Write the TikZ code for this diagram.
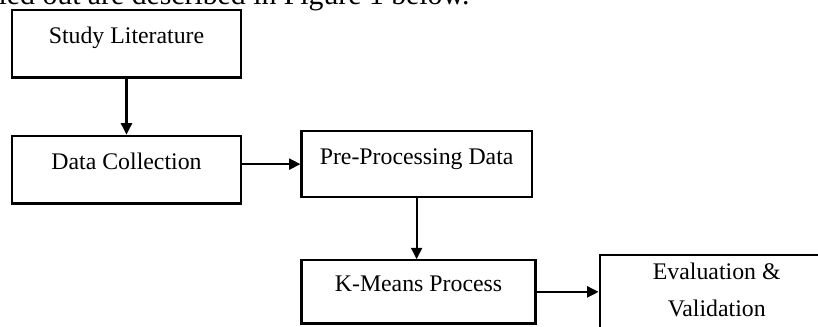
\documentclass[tikz,border=0pt]{standalone}
\usepackage{fontspec}
\setmainfont{Liberation Serif}
\usepackage{tikz}
\usetikzlibrary{arrows.meta,positioning}

\begin{document}
\begin{tikzpicture}[
    x=0.42pt, y=-0.42pt,
    node distance=23.5pt and 24.4pt,
    stepbox/.style={rectangle, draw=black, line width=0.95pt, align=center, minimum width=96.4pt, minimum height=28.4pt, text height=7pt, text depth=7pt, font=\fontsize{10}{15.5}\selectfont},
    arrow/.style={-{Triangle[length=4.8pt, width=4.6pt]}, line width=0.95pt, draw=black}
]
    \clip (0,0) rectangle (818,326);

    \node [anchor=base east, inner sep=0pt, font=\fontsize{12.5}{15}\selectfont] (intro) at (470,4.5) {ied out are described in Figure 1 below.};

    \node [stepbox] (n1) at (126.5,43.75) {Study Literature};
    \node [stepbox, below=of n1] (n2) {Data Collection};
    \node [stepbox, right=of n2, yshift=2.3pt, minimum width=96.6pt, minimum height=27.7pt] (n3) {Pre-Processing Data};
    \node [stepbox, below=25.6pt of n3, xshift=0.8pt, minimum width=98.3pt, minimum height=26.5pt] (n4) {K-Means Process};
    \node [stepbox, right=26pt of n4, yshift=-3.6pt, minimum width=98.3pt, minimum height=37pt, text height=, text depth=8.8pt] (n5) {Evaluation \&\\Validation};

    \draw [arrow] (n1) -- (n2);
    \draw [arrow] (n2.east |- n3.west) -- (n3.west);
    \draw [arrow] (n3) -- (n3.south |- n4.north);
    \draw [arrow] (n4) -- (n4.east -| n5.west);
\end{tikzpicture}
\end{document}
